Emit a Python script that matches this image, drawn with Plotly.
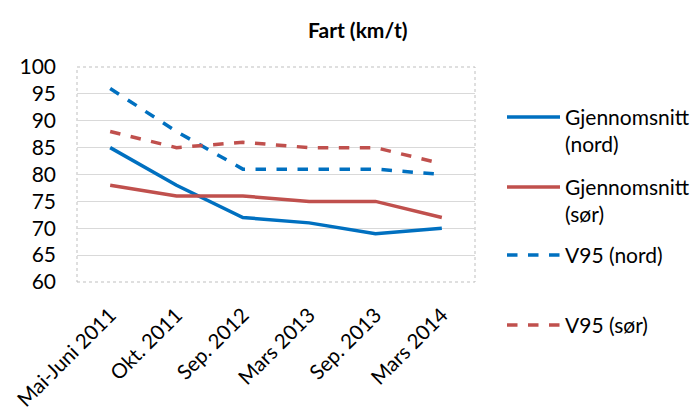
import plotly.graph_objects as go

categories = ["Mai-Juni 2011", "Okt. 2011", "Sep. 2012", "Mars 2013", "Sep. 2013", "Mars 2014"]
gj_nord = [85, 78, 72, 71, 69, 70]
gj_sor = [78, 76, 76, 75, 75, 72]
v95_nord = [96, 88, 81, 81, 81, 80]
v95_sor = [88, 85, 86, 85, 85, 82]
y_ticks = [60, 65, 70, 75, 80, 85, 90, 95, 100]

BLUE = "#0070C0"
RED = "#C0504D"
FONT = "Lato"

series = [
    ("Gjennomsnitt<br>(nord)", gj_nord, BLUE, "solid"),
    ("Gjennomsnitt<br>(sør)", gj_sor, RED, "solid"),
    ("V95 (nord)", v95_nord, BLUE, "dash"),
    ("V95 (sør)", v95_sor, RED, "dash"),
]

OFF = 8  # page offset
W, H = 700 - OFF, 408 - OFF
L, R, T, B = 77 - OFF, 225, 67 - OFF, 126
PW, PH = 700 - 77 - 225, 408 - 67 - 126

fig = go.Figure()
for name, vals, col, dash in series:
    fig.add_trace(go.Scatter(x=categories, y=vals, mode="lines", name=name,
                             line=dict(color=col, width=3.5, dash=dash),
                             showlegend=False))

def px_x(x):
    return (x - 77) / PW

def px_y(y):
    return (282 - y) / PH

legend_y = [117, 187, 255, 325]
for (name, vals, col, dash), yp in zip(series, legend_y):
    fig.add_shape(type="line", xref="paper", yref="paper",
                  x0=px_x(507), x1=px_x(560), y0=px_y(yp), y1=px_y(yp),
                  line=dict(color=col, width=3.5, dash=dash))
    fig.add_annotation(xref="paper", yref="paper", x=px_x(563), y=px_y(yp - 15),
                       text=name, showarrow=False, xanchor="left", yanchor="top",
                       align="left", font=dict(family=FONT, size=21, color="black"))

fig.add_shape(type="rect", xref="paper", yref="paper", x0=0, x1=1, y0=0, y1=1,
              line=dict(color="#BFBFBF", width=1, dash="dot"), layer="below")

fig.add_annotation(xref="paper", yref="paper", x=px_x(358), y=px_y(30),
                   text="<b>Fart (km/t)</b>", showarrow=False, xanchor="center", yanchor="middle",
                   font=dict(family=FONT, size=21, color="black"))

fig.update_layout(
    width=W, height=H,
    margin=dict(l=L, r=R, t=T, b=B, autoexpand=False),
    paper_bgcolor="white", plot_bgcolor="white",
    font=dict(family=FONT, size=20, color="black"),
)
fig.update_xaxes(type="category", range=[-0.5, 5.5], tickangle=-45, showgrid=False,
                 showline=False, ticks="outside", ticklen=12, tickcolor="rgba(0,0,0,0)",
                 automargin=False, tickfont=dict(family=FONT, size=20.5))
fig.update_yaxes(range=[60, 100], tickvals=y_ticks, showgrid=True, gridcolor="#D9D9D9",
                 gridwidth=1, zeroline=False, showline=False, ticks="", automargin=False,
                 ticklabelstandoff=20, tickfont=dict(family=FONT, size=21))

fig.write_html("out.html")
